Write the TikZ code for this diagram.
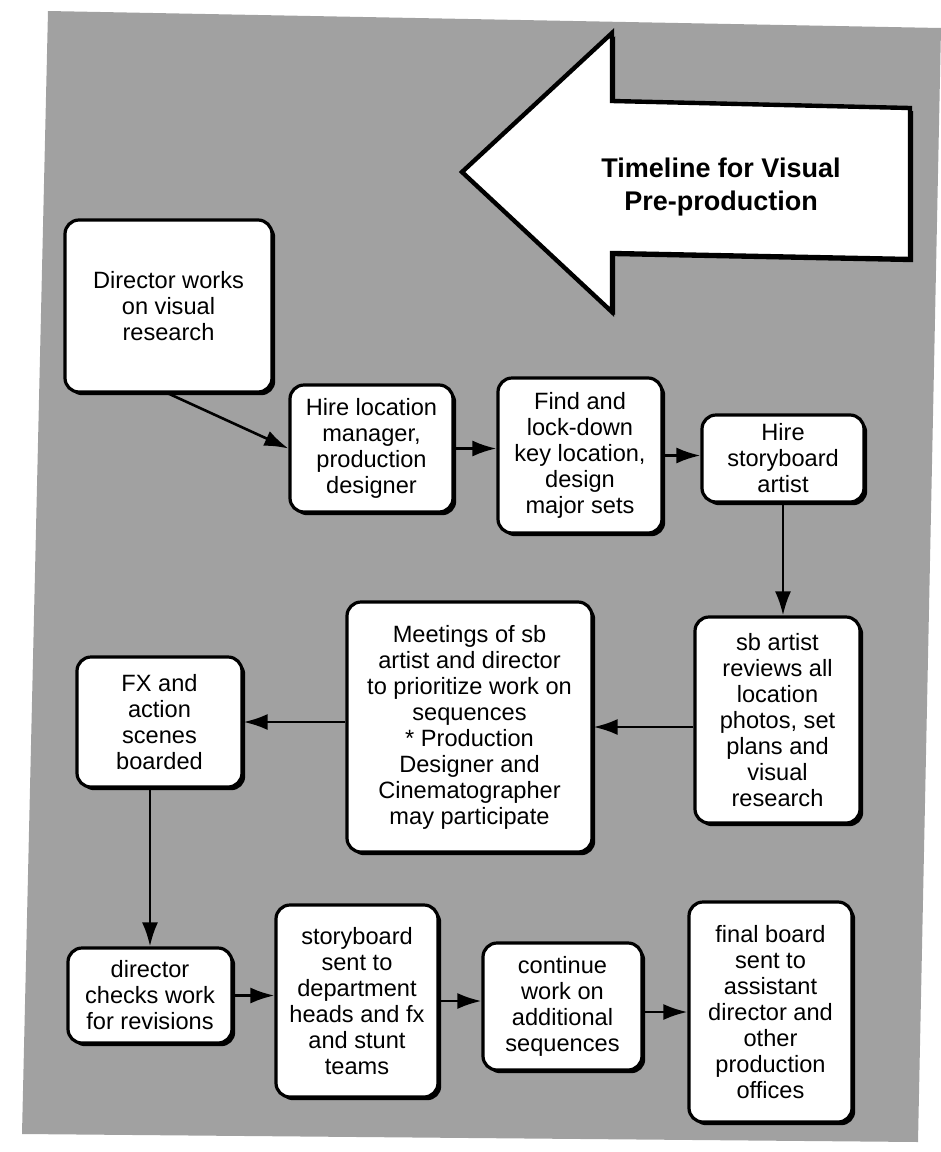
\documentclass[tikz,border=0pt]{standalone}
\usepackage{fontspec}
\setmainfont{Liberation Sans}
\usetikzlibrary{arrows.meta,shadows}
\definecolor{scangray}{gray}{0.63}

\begin{document}
\begin{tikzpicture}[
  x=0.5pt, y=-0.5pt,
  font=\fontsize{11.8}{13}\selectfont,
  >=Latex,
  stepbox/.style={draw=black, line width=1.6pt, rounded corners=7pt,
    fill=white, align=center, inner sep=2pt,
    drop shadow={shadow xshift=1.6pt, shadow yshift=-1.6pt, fill=black, opacity=1}},
  flow/.style={-{Latex[length=12pt,width=8pt]}, line width=1.3pt},
  titletext/.style={font=\fontsize{13.5}{16.5}\selectfont\bfseries, align=center}
]
  \useasboundingbox (0,0) rectangle (941,1152);
  % scanned page background
  \fill[scangray] (48,11) -- (941,28) -- (918,1142) -- (22,1134) -- cycle;

  % big arrow with the title
  \draw[line width=2.2pt, fill=white, line join=miter,
    drop shadow={shadow xshift=1.6pt, shadow yshift=-1.6pt, fill=black, opacity=1}]
    (462,172) -- (612,33) -- (612,101) -- (910,108) -- (910,259)
    -- (612,253) -- (612,312) -- cycle;
  \node[titletext] (title) at (721,187) {Timeline for Visual\\Pre-production};

  \node[stepbox, minimum width=103.5pt, minimum height=86pt] (research) at (168.5,306)
    {Director works\\on visual\\research};
  \node[stepbox, minimum width=81.5pt, minimum height=63.5pt] (hireloc) at (371.5,448.5)
    {Hire location\\manager,\\production\\designer};
  \node[stepbox, minimum width=82pt, minimum height=77.5pt] (findloc) at (580,455.5)
    {Find and\\lock-down\\key location,\\design\\major sets};
  \node[stepbox, minimum width=81pt, minimum height=43.5pt] (hiresb) at (783,458.5)
    {Hire\\storyboard\\artist};
  \node[stepbox, minimum width=82.5pt, minimum height=103pt] (sbreview) at (777.5,720)
    {sb artist\\reviews all\\location\\photos, set\\plans and\\visual\\research};
  \node[stepbox, minimum width=122.5pt, minimum height=125pt] (meetings) at (469.5,727)
    {Meetings of sb\\artist and director\\to prioritize work on\\sequences\\* Production\\Designer and\\Cinematographer\\may participate};
  \node[stepbox, minimum width=82.5pt, minimum height=65pt] (fxboard) at (159.5,722)
    {FX and\\action\\scenes\\boarded};
  \node[stepbox, minimum width=82pt, minimum height=47.5pt] (dircheck) at (150,995.5)
    {director\\checks work\\for revisions};
  \node[stepbox, minimum width=81pt, minimum height=96pt] (sbsent) at (357,1001)
    {storyboard\\sent to\\department\\heads and fx\\and stunt\\teams};
  \node[stepbox, minimum width=79.5pt, minimum height=63.5pt] (contwork) at (562.5,1006.5)
    {continue\\work on\\additional\\sequences};
  \node[stepbox, minimum width=81.5pt, minimum height=110pt] (finalboard) at (770.5,1012)
    {final board\\sent to\\assistant\\director and\\other\\production\\offices};

  \draw[flow] (research.south) -- (hireloc.west);
  \draw[flow] (hireloc.east) -- (hireloc.east -| findloc.west);
  \draw[flow] (findloc.east) -- (findloc.east -| hiresb.west);
  \draw[flow] (hiresb.south) -- (hiresb.south |- sbreview.north);
  \draw[flow] (sbreview.west |- meetings.east) -- (meetings.east);
  \draw[flow] (meetings.west |- fxboard.east) -- (fxboard.east);
  \draw[flow] (fxboard.south -| dircheck.north) -- (dircheck.north);
  \draw[flow] (dircheck.east) -- (dircheck.east -| sbsent.west);
  \draw[flow] (sbsent.east) -- (sbsent.east -| contwork.west);
  \draw[flow] (contwork.east |- finalboard.west) -- (finalboard.west);
\end{tikzpicture}
\end{document}
